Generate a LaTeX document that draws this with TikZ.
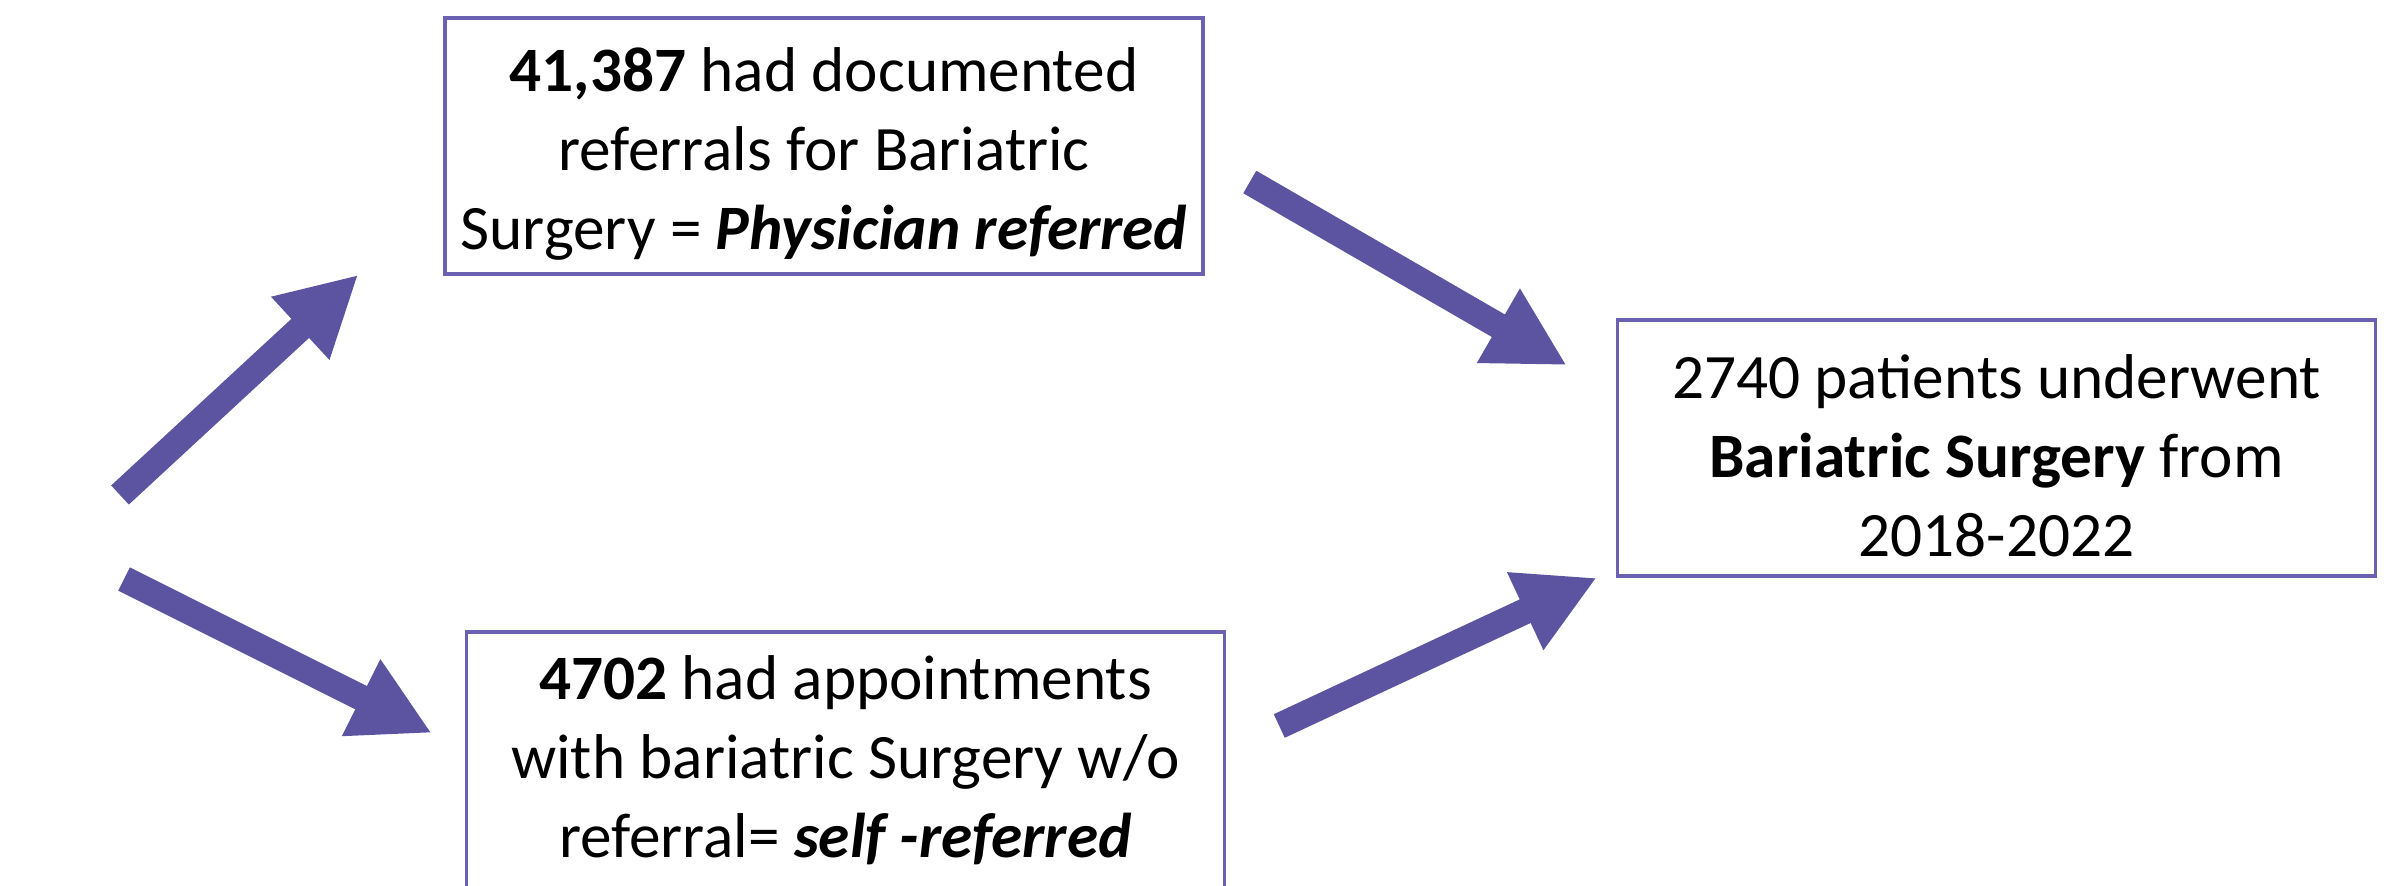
\documentclass[tikz,border=0pt]{standalone}
\usepackage{fontspec}
\setmainfont{Carlito}
\usetikzlibrary{arrows.meta}
\definecolor{referralpurple}{HTML}{5C54A0}
\definecolor{boxpurple}{HTML}{6A62B0}
\newcommand{\lowstrut}{\rule{0pt}{17pt}}

\begin{document}
\begin{tikzpicture}[
  box/.style={draw=boxpurple, line width=1pt, minimum width=7.58cm, minimum height=2.56cm, inner sep=0pt, align=center, font=\fontsize{18}{22.5}\selectfont},
  fatarrow/.style={draw=referralpurple, line width=0.26cm, -{Triangle[length=0.79cm, width=0.8cm]}}
]
\useasboundingbox (0,0) rectangle (23.99,8.85);

\node[box] (physician) at (8.24,7.39) {\lowstrut\textbf{41,387} had documented\\referrals for Bariatric\\Surgery = \textbf{\textit{Physician referred}}};
\node[box] (self) at (8.455,1.25) {\textbf{4702} had appointments\\with bariatric Surgery w/o\\referral= \textbf{\textit{self -referred}}};
\node[box] (surgery) at (19.965,4.37) {\lowstrut 2740 patients underwent\\\textbf{Bariatric Surgery} from\\2018-2022};

\coordinate (start1) at (1.20,3.90);
\coordinate (start2) at (1.24,3.06);

\draw[fatarrow] (start1) -- ([xshift=-0.85cm,yshift=0.01cm]physician.south west);
\draw[fatarrow] (start2) -- ([xshift=-0.33cm,yshift=0.27cm]self.west);
\draw[fatarrow] ([xshift=0.45cm,yshift=-0.36cm]physician.east) -- ([xshift=-0.49cm,yshift=-0.47cm]surgery.north west);
\draw[fatarrow] ([xshift=0.53cm,yshift=0.34cm]self.east) -- ([xshift=-0.19cm]surgery.south west);
\end{tikzpicture}
\end{document}
